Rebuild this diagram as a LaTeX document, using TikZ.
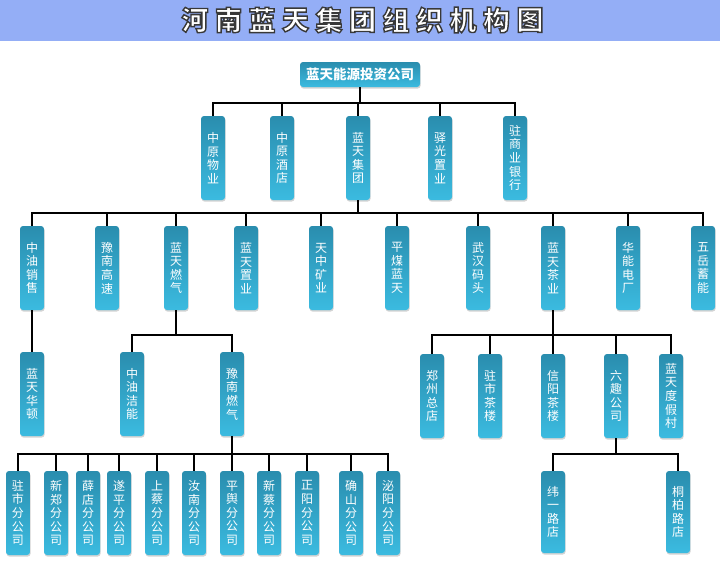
\documentclass[tikz,border=0pt]{standalone}
\usepackage{fontspec}
\usetikzlibrary{shadows}
\newfontfamily\cjk{Noto Sans CJK SC}
\definecolor{barblue}{HTML}{94AEF6}
\definecolor{tealdark}{HTML}{2A8DAE}
\definecolor{teallight}{HTML}{3BBBE0}
\newcommand\outlined[1]{\special{pdf:literal direct 2 Tr 1.4 w 0.22 0.22 0.22 RG}#1\special{pdf:literal direct 0 Tr 0.4 w}}
\tikzset{
  unit/.style={rounded corners=3pt, top color=tealdark, bottom color=teallight,
    text=white, minimum width=24pt, minimum height=84pt, inner sep=0pt,
    align=center, font=\cjk\fontsize{12}{13.6}\selectfont,
    drop shadow={shadow xshift=0.6pt, shadow yshift=-1.6pt, opacity=0.35}},
  link/.style={line width=1.6pt, black},
  heading/.style={text=white, inner sep=0pt, font=\cjk\bfseries\fontsize{27}{27}\selectfont},
}
\begin{document}
\begin{tikzpicture}[x=1pt, y=-1pt]
            \useasboundingbox (0,0) rectangle (720,563);
                % title bar
                \fill [barblue] (0,0) rectangle (720,41);
                % top
                \node [unit, minimum width=120pt, minimum height=25pt,
                    font=\cjk\bfseries\fontsize{13.5}{14}\selectfont] (ltny) at (360,74.5) {蓝天能源投资公司};
                % second row
                \node [unit] (zywy) at (213,158) {中\\原\\物\\业};
                \node [unit] (zyjd) at (282,158) {中\\原\\酒\\店};
                \node [unit] (ltjt) at (358,158) {蓝\\天\\集\\团};
                \node [unit] (ygzy) at (440,158) {驿\\光\\置\\业};
                \node [unit] (zsyh) at (515,158) {驻\\商\\业\\银\\行};
                \foreach \c in {zywy,zyjd,ltjt,ygzy,zsyh}
                    \draw [link] (ltny.south) -- ++(0,16) -| (\c.north);
                % third row
                \node [unit] (zyxs) at (32,268) {中\\油\\销\\售};
                \node [unit] (yngs) at (107,268) {豫\\南\\高\\速};
                \node [unit] (ltrq) at (176,268) {蓝\\天\\燃\\气};
                \node [unit] (ltzy) at (246,268) {蓝\\天\\置\\业};
                \node [unit] (tzky) at (321,268) {天\\中\\矿\\业};
                \node [unit] (pmlt) at (397,268) {平\\煤\\蓝\\天};
                \node [unit] (whmt) at (478,268) {武\\汉\\码\\头};
                \node [unit] (ltcy) at (553,268) {蓝\\天\\茶\\业};
                \node [unit] (hndc) at (628,268) {华\\能\\电\\厂};
                \node [unit] (wyxn) at (703,268) {五\\岳\\蓄\\能};
                \foreach \c in {zyxs,yngs,ltrq,ltzy,tzky,pmlt,whmt,ltcy,hndc,wyxn}
                    \draw [link] (ltjt.south) -- ++(0,13) -| (\c.north);
                % fourth row
                \node [unit] (lthd) at (32,394) {蓝\\天\\华\\顿};
                \draw [link] (zyxs.south) -- (lthd.north);
                \node [unit] (zyjn) at (132,394) {中\\油\\洁\\能};
                \node [unit] (ynrq) at (232,394) {豫\\南\\燃\\气};
                \foreach \c in {zyjn,ynrq}
                    \draw [link] (ltrq.south) -- ++(0,25) -| (\c.north);
                \node [unit] (zzzd) at (432,396) {郑\\州\\总\\店};
                \node [unit] (zscl) at (490,396) {驻\\市\\茶\\楼};
                \node [unit] (xycl) at (553,396) {信\\阳\\茶\\楼};
                \node [unit] (lqgs) at (616,396) {六\\趣\\公\\司};
                \node [unit] (djc) at (671,396) {蓝\\天\\度\\假\\村};
                \foreach \c in {zzzd,zscl,xycl,lqgs,djc}
                    \draw [link] (ltcy.south) -- ++(0,25) -| (\c.north);
                % fifth row
                \foreach \x/\a/\b [count=\i] in {18/驻/市,56/新/郑,88/薛/店,119/遂/平,157/上/蔡,
                        194/汝/南,232/平/舆,269/新/蔡,307/正/阳,351/确/山,388/泌/阳} {
                    \node [unit] (f\i) at (\x,513) {\a\\\b\\分\\公\\司};
                    \draw [link] (ynrq.south) -- ++(0,18) -| (f\i.north);
                }
                \node [unit, minimum height=82pt] (wylu) at (553,512) {纬\\一\\路\\店};
                \node [unit, minimum height=82pt] (tblu) at (678,512) {桐\\柏\\路\\店};
                \foreach \c in {wylu,tblu}
                    \draw [link] (lqgs.south) -- ++(0,16) -| (\c.north);
                % title text last, it changes the text mode
                \foreach \ch [count=\i from 0] in {河,南,蓝,天,集,团,组,织,机,构,图}
                    \node [heading] (t\i) at (195+33.5*\i, 20) {\outlined{\ch}};
            \end{tikzpicture}
\end{document}
